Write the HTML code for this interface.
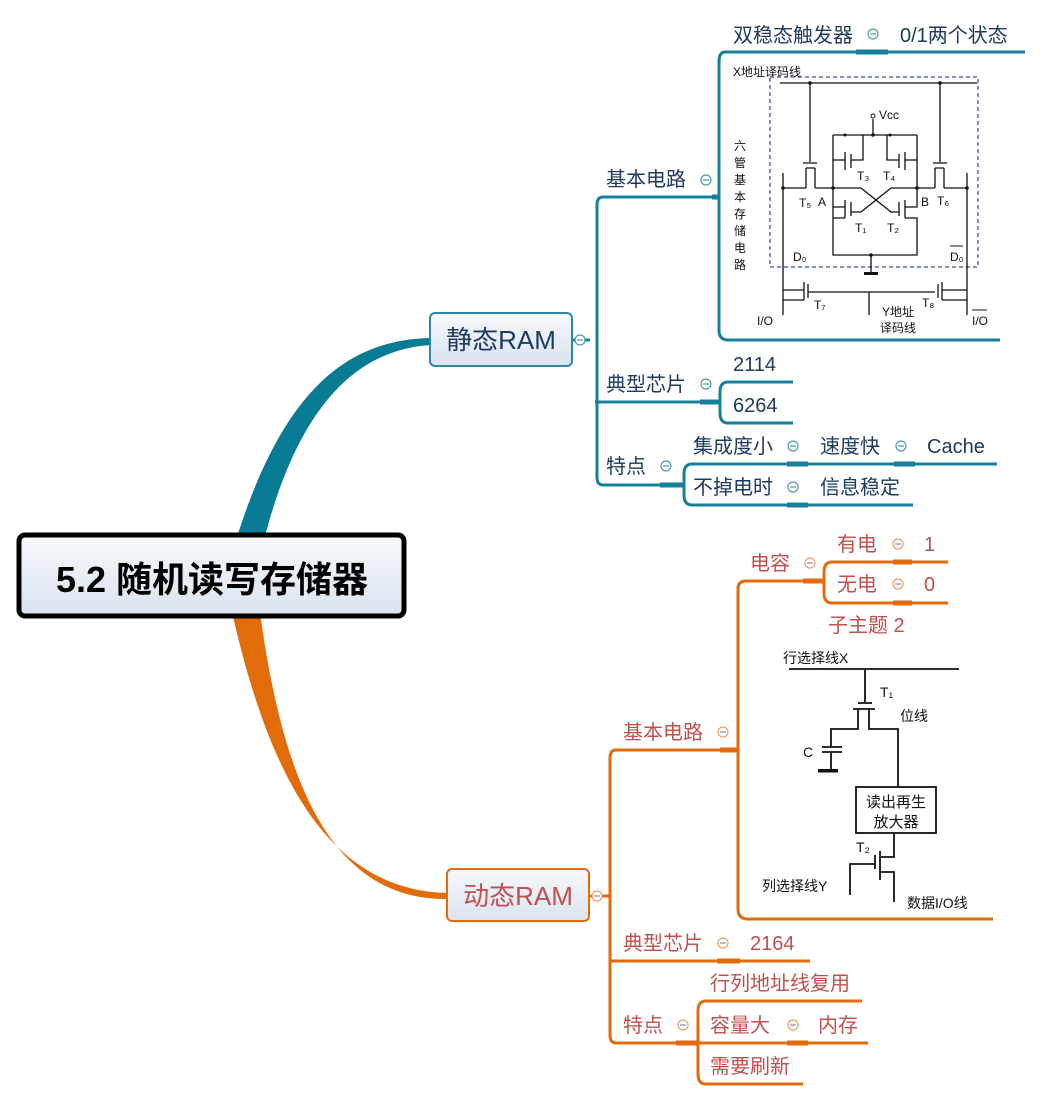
<!DOCTYPE html>
<html><head><meta charset="utf-8"><style>
html,body{margin:0;padding:0;background:#fff;width:1043px;height:1101px;overflow:hidden}
svg{display:block}
.t{font-family:"Liberation Sans","Noto Sans CJK SC",sans-serif;font-size:20px}
.n{fill:#1f3a60}
.r{fill:#c0504d}
.c{font-family:"Liberation Sans","Noto Sans CJK SC",sans-serif;font-size:12px;fill:#111}
</style></head><body>
<svg width="1043" height="1101" viewBox="0 0 1043 1101" xmlns="http://www.w3.org/2000/svg">
<defs>
<linearGradient id="g" x1="0" y1="0" x2="0" y2="1"><stop offset="0" stop-color="#f7f9fc"/><stop offset="1" stop-color="#dae3f0"/></linearGradient>
</defs>
<path d="M236,540 C280,400 340,340 430,338 L430,345 C360,350 300,400 264,540 Z" fill="#087b94"/>
<path d="M232,612 C270,780 330,890 447,893 L447,899 C340,900 285,800 260,612 Z" fill="#e36c0a"/>

<g fill="none" stroke="#16809a" stroke-width="3">
<path d="M572,340 H590"/>
<path d="M715,197 H603 Q597,197 597,205 V477 Q597,485 603,485 H680"/>
<path d="M715,402 H595"/>
<path d="M1025,52 H725 Q719,52 719,62 V330 Q719,340 728,340 H1000"/>
<path d="M719,197 H712" stroke-width="5"/>
<path d="M793,382 H728 Q720,382 720,392 V413 Q720,423 728,423 H793"/>
<path d="M700,402 H720" stroke-width="5"/>
<path d="M997,464 H692 Q684,464 684,474 V495 Q684,505 692,505 H913"/>
<path d="M660,485 H684" stroke-width="5"/>
<path d="M787,464 H808 M894,464 H915 M787,505 H808 M856,52 H888" stroke-width="5"/>
</g>
<rect x="430" y="313" width="142" height="53" rx="5" fill="url(#g)" stroke="#2e87a3" stroke-width="2"/>
<text x="501" y="349" text-anchor="middle" class="t n" style="font-size:26px">静态RAM</text>
<g fill="#fff" stroke="#4a9bb0" stroke-width="1.2">
<circle cx="580" cy="340" r="5"/><circle cx="706" cy="180" r="5"/><circle cx="706" cy="384" r="5"/><circle cx="666" cy="466" r="5"/>
<circle cx="873" cy="34" r="5"/><circle cx="793" cy="446" r="5"/><circle cx="901" cy="446" r="5"/><circle cx="793" cy="487" r="5"/>
</g>
<g stroke="#4a9bb0" stroke-width="1.2"><path d="M577,340h6M703,180h6M703,384h6M663,466h6M870,34h6M790,446h6M898,446h6M790,487h6"/></g>
<text x="606" y="186" class="t n">基本电路</text>
<text x="606" y="391" class="t n">典型芯片</text>
<text x="606" y="473" class="t n">特点</text>
<text x="733" y="42" class="t n">双稳态触发器</text>
<text x="900" y="42" class="t n">0/1两个状态</text>
<text x="733" y="371" class="t n">2114</text>
<text x="733" y="412" class="t n">6264</text>
<text x="693" y="453" class="t n">集成度小</text>
<text x="820" y="453" class="t n">速度快</text>
<text x="927" y="453" class="t n">Cache</text>
<text x="693" y="494" class="t n">不掉电时</text>
<text x="820" y="494" class="t n">信息稳定</text>

<g stroke="#111" stroke-width="1.3" fill="none">
<rect x="770" y="77" width="208" height="190" stroke="#3a55a8" stroke-dasharray="4,3"/>
<path d="M780,83 H977"/>
<path d="M810,83 V162 M803,163 H817 M806,168 V188 M815,168 V188 M806,168 H815"/>
<path d="M940,83 V162 M933,163 H947 M935,168 V188 M944,168 V188 M935,168 H944"/>
<path d="M783,173 V300 M967,173 V300"/>
<path d="M783,188 H806 M815,188 H861 L891,212 M935,188 H918 L891,188 L861,212 M944,188 H967 M918,188 H891"/>
<path d="M873,119 V135 M833,135 H917 M833,135 V160 H845 M845,152 V170 M851,154 V168 M851,160 H863 V135 M833,160 V188"/>
<path d="M917,135 V160 H905 M905,152 V170 M899,154 V168 M899,160 H887 V135 M917,160 V188"/>
<path d="M833,188 V207 H845 M845,200 V218 M851,202 V216 M851,212 H861 M833,207 V228 M833,218 H845 M833,228 V255 H917 V218 H905 M905,200 V218 M899,202 V216 M899,212 H890 M917,188 V207 H905"/>
<path d="M871,255 V272"/>
<path d="M783,290 H804 M804,282 V300 M808,284 V298 M808,292 H935 M942,282 V300 M938,284 V298 M942,290 H967 M804,300 H783 V315 M942,300 H967 V315 M869,292 V315"/>
</g>
<rect x="864" y="272" width="14" height="3" fill="#111"/>
<g fill="#111"><circle cx="810" cy="83" r="1.8"/><circle cx="940" cy="83" r="1.8"/><circle cx="833" cy="188" r="1.8"/><circle cx="917" cy="188" r="1.8"/><circle cx="783" cy="188" r="1.8"/><circle cx="967" cy="188" r="1.8"/><circle cx="871" cy="255" r="1.8"/><circle cx="873" cy="135" r="1.8"/><circle cx="845" cy="135" r="1.5"/><circle cx="890" cy="135" r="1.5"/></g>
<circle cx="873" cy="116" r="2" fill="#fff" stroke="#111"/>
<text x="733" y="76" class="c">X地址译码线</text>
<text x="879" y="119" class="c">Vcc</text>
<text x="857" y="180" class="c">T₃</text><text x="883" y="180" class="c">T₄</text>
<text x="799" y="207" class="c">T₅</text><text x="818" y="206" class="c">A</text>
<text x="921" y="206" class="c">B</text><text x="937" y="205" class="c">T₆</text>
<text x="855" y="232" class="c">T₁</text><text x="887" y="232" class="c">T₂</text>
<text x="793" y="261" class="c">D₀</text><text x="950" y="261" class="c">D₀</text>
<path d="M950,246 H963" stroke="#111"/>
<text x="814" y="309" class="c">T₇</text><text x="922" y="307" class="c">T₈</text>
<text x="757" y="325" class="c">I/O</text><text x="972" y="325" class="c">I/O</text>
<path d="M972,310 H987" stroke="#111"/>
<text x="882" y="316" class="c">Y地址</text><text x="880" y="332" class="c">译码线</text>
<text x="734" y="150" class="c">六</text><text x="734" y="167" class="c">管</text><text x="734" y="184" class="c">基</text><text x="734" y="201" class="c">本</text><text x="734" y="218" class="c">存</text><text x="734" y="235" class="c">储</text><text x="734" y="252" class="c">电</text><text x="734" y="269" class="c">路</text>

<g fill="none" stroke="#e36c0a" stroke-width="3">
<path d="M589,896 H609"/>
<path d="M735,750 H616 Q610,750 610,758 V1035 Q610,1043 616,1043 H695"/>
<path d="M810,961 H610"/>
<path d="M738,750 V909 Q738,919 748,919 H993"/>
<path d="M738,750 V589 Q738,581 746,581 H820"/>
<path d="M720,750 H738" stroke-width="5"/>
<path d="M948,562 H832 Q824,562 824,572 V593 Q824,603 832,603 H948"/>
<path d="M803,581 H824 M893,562 H912 M893,603 H912 M717,961 H740 M787,1043 H808" stroke-width="5"/>
<path d="M862,1001 H706 Q698,1001 698,1011 V1074 Q698,1084 706,1084 H803 M698,1043 H868"/>
<path d="M676,1043 H698" stroke-width="5"/>
</g>
<rect x="447" y="869" width="142" height="52" rx="5" fill="url(#g)" stroke="#e36c0a" stroke-width="2"/>
<text x="518" y="905" text-anchor="middle" class="t r" style="font-size:26px">动态RAM</text>
<g fill="#fff" stroke="#f0a060" stroke-width="1.2">
<circle cx="597" cy="896" r="5"/><circle cx="723" cy="732" r="5"/><circle cx="810" cy="563" r="5"/><circle cx="898" cy="544" r="5"/><circle cx="898" cy="584" r="5"/><circle cx="723" cy="943" r="5"/><circle cx="683" cy="1025" r="5"/><circle cx="793" cy="1025" r="5"/>
</g>
<g stroke="#8a8ec0" stroke-width="1.2"><path d="M594,896h6M720,732h6M807,563h6M895,544h6M895,584h6M720,943h6M680,1025h6M790,1025h6"/></g>
<text x="623" y="739" class="t r">基本电路</text>
<text x="750" y="570" class="t r">电容</text>
<text x="837" y="551" class="t r">有电</text><text x="924" y="551" class="t r">1</text>
<text x="837" y="591" class="t r">无电</text><text x="924" y="591" class="t r">0</text>
<text x="828" y="632" class="t r">子主题 2</text>
<text x="623" y="950" class="t r">典型芯片</text>
<text x="750" y="950" class="t r">2164</text>
<text x="623" y="1032" class="t r">特点</text>
<text x="710" y="990" class="t r">行列地址线复用</text>
<text x="710" y="1032" class="t r">容量大</text>
<text x="818" y="1032" class="t r">内存</text>
<text x="710" y="1073" class="t r">需要刷新</text>

<g stroke="#111" stroke-width="1.8" fill="none">
<path d="M789,669 H959 M865,669 V702 M858,703 H872 M853,709 H875 M858,709 V729 H831 V747 M869,709 V729 H898 V787"/>
<path d="M822,747 H842 M822,752 H842 M831,752 V770"/>
<rect x="856" y="787" width="80" height="46"/>
<path d="M894,833 V857 H880 M880,851 V880 M875,855 V869 M875,864 H850 V895 M880,872 H894 V902"/>
</g>
<rect x="818" y="769" width="20" height="3.5" fill="#111"/>
<text x="783" y="663" class="c" style="font-size:14px">行选择线X</text>
<text x="880" y="697" class="c" style="font-size:14px">T₁</text>
<text x="900" y="721" class="c" style="font-size:14px">位线</text>
<text x="803" y="757" class="c" style="font-size:14px">C</text>
<text x="896" y="807" text-anchor="middle" class="c" style="font-size:15px">读出再生</text>
<text x="896" y="827" text-anchor="middle" class="c" style="font-size:15px">放大器</text>
<text x="856" y="852" class="c" style="font-size:14px">T₂</text>
<text x="762" y="891" class="c" style="font-size:14px">列选择线Y</text>
<text x="907" y="908" class="c" style="font-size:14px">数据I/O线</text>

<rect x="19" y="535" width="385" height="81" rx="6" fill="url(#g)" stroke="#000" stroke-width="5"/>
<text x="212" y="592" text-anchor="middle" style="font-family:'Liberation Sans','Noto Sans CJK SC',sans-serif;font-size:36px;font-weight:bold;fill:#000">5.2 随机读写存储器</text>
</svg>
</body></html>
